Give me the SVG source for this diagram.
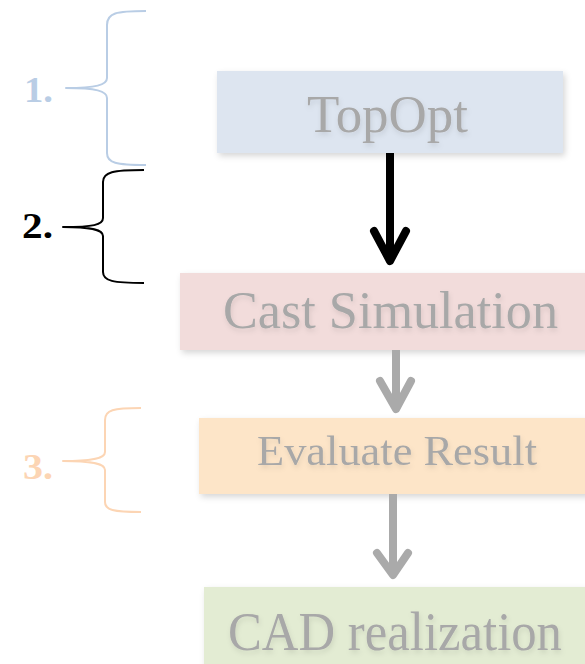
<svg xmlns="http://www.w3.org/2000/svg" width="585" height="664" viewBox="0 0 585 664">
  <defs>
    <filter id="boxShadow" x="-10%" y="-20%" width="130%" height="150%">
      <feDropShadow dx="2" dy="3" stdDeviation="3" flood-color="#000" flood-opacity="0.16"/>
    </filter>
    <filter id="textShadow" x="-10%" y="-20%" width="130%" height="160%">
      <feDropShadow dx="1" dy="3" stdDeviation="2.5" flood-color="#000" flood-opacity="0.1"/>
    </filter>
  </defs>
  <style>
    .label { font-family: "Liberation Serif", "DejaVu Serif", serif; fill: #a8a8a8; text-anchor: start; }
    .num { font-family: "Liberation Serif", "DejaVu Serif", serif; font-weight: bold; font-size: 35px; }
    .brace { fill: none; stroke-width: 2; stroke-linejoin: round; }
    .shaft { fill: none; stroke-width: 8; stroke-linecap: butt; }
    .head { fill: none; stroke-width: 8; stroke-linecap: round; stroke-linejoin: round; }
  </style>
  <rect width="585" height="664" fill="#ffffff"/>

  <!-- step braces with numbers -->
  <g id="step1">
    <path class="brace" stroke="#b9cde5" d="M146,11 C116,11 107,13 107,25 L107,78 C107,85 96,88 66,88 C96,88 107,91 107,98 L107,153 C107,163 116,165 146,165"/>
    <text class="num" fill="#b9cde5" x="24" y="102" textLength="29" lengthAdjust="spacingAndGlyphs">1.</text>
  </g>
  <g id="step2">
    <path class="brace" stroke="#000000" stroke-width="2.5" d="M144,170 C113,170 103,172 103,182 L103,218 C103,225 93,227 63,227 C93,227 103,230 103,236 L103,272 C103,281 113,283 144,283"/>
    <text class="num" fill="#000000" x="22" y="238" textLength="31" lengthAdjust="spacingAndGlyphs">2.</text>
  </g>
  <g id="step3">
    <path class="brace" stroke="#fcd5b4" d="M141,408 C113,408 105,410 105,420 L105,452 C105,458 94,461 63,461 C94,461 105,464 105,470 L105,502 C105,510 113,512 141,512"/>
    <text class="num" fill="#fcd5b4" x="23" y="479" textLength="30" lengthAdjust="spacingAndGlyphs">3.</text>
  </g>

  <!-- process boxes -->
  <g id="topopt">
    <rect x="217" y="71" width="346" height="82" fill="#dde5f0" filter="url(#boxShadow)"/>
    <text class="label" x="307" y="132" font-size="53" textLength="161" lengthAdjust="spacingAndGlyphs" filter="url(#textShadow)">TopOpt</text>
  </g>
  <g id="cast-simulation">
    <rect x="180" y="273" width="410" height="77" fill="#f2dcdb" filter="url(#boxShadow)"/>
    <text class="label" x="223" y="328" font-size="52" textLength="335" lengthAdjust="spacingAndGlyphs" filter="url(#textShadow)">Cast Simulation</text>
  </g>
  <g id="evaluate-result">
    <rect x="199" y="418" width="391" height="76" fill="#fde5c8" filter="url(#boxShadow)"/>
    <text class="label" x="257" y="465" font-size="42" textLength="280" lengthAdjust="spacingAndGlyphs" filter="url(#textShadow)">Evaluate Result</text>
  </g>
  <g id="cad-realization">
    <rect x="204" y="587" width="386" height="82" fill="#e3ecd3" filter="url(#boxShadow)"/>
    <text class="label" x="228" y="650" font-size="54" textLength="334" lengthAdjust="spacingAndGlyphs" filter="url(#textShadow)">CAD realization</text>
  </g>

  <!-- connectors -->
  <g id="connectors">
    <path class="shaft" stroke="#000000" d="M390,153 L390,258"/>
    <path class="head" stroke="#000000" d="M374,231 L390,261 L406,231"/>
    <path class="shaft" stroke="#aaaaaa" d="M396,350 L396,406"/>
    <path class="head" stroke="#aaaaaa" d="M380,381 L396,409 L411,381"/>
    <path class="shaft" stroke="#aaaaaa" d="M393,494 L393,572"/>
    <path class="head" stroke="#aaaaaa" d="M377,553 L393,575 L408,553"/>
  </g>
</svg>
